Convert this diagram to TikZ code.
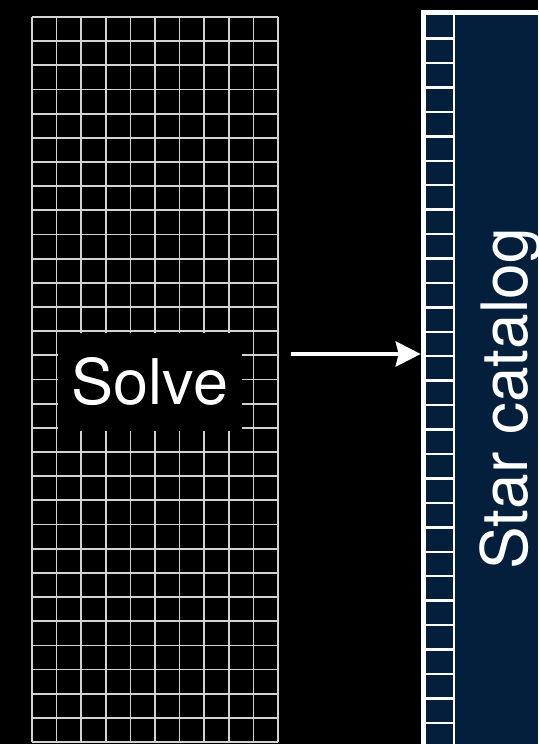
\documentclass[tikz,border=0pt]{standalone}
\usepackage{fontspec}
\setmainfont{TeX Gyre Heros}
\usetikzlibrary{arrows.meta}
\definecolor{navy}{RGB}{3,31,59}
\definecolor{gridc}{RGB}{210,210,210}
\tikzset{
  gridline/.style={draw=gridc, line width=1.7pt},
  bigtext/.style={text=white, font=\fontsize{63}{70}\selectfont, inner sep=0pt},
  cell/.style={fill=navy},
  arrowline/.style={draw=white, line width=4pt, -{Stealth[length=25pt,width=25pt,inset=3pt]}}
}
\begin{document}
\begin{tikzpicture}[x=1pt,y=-1pt]
\useasboundingbox (0,0) rectangle (538,744);
\fill[black] (0,0) rectangle (538,744);
% grid
\foreach \k in {0,...,10} {
  \draw[gridline] ({32+\k*24.6},17) -- ({32+\k*24.6},742);
}
\foreach \k in {0,...,30} {
  \draw[gridline] (32,{17+\k*24.167}) -- (278,{17+\k*24.167});
}
% solve label
\node[bigtext, fill=black, minimum width=184pt, minimum height=98pt] (solve) at (150,381.5) {Solve};
% catalog
\node[fill=white, inner sep=0pt, anchor=north west, minimum width=117.3pt, minimum height=734pt] (catalog) at (420.7,10) {};
\foreach \k in {0,...,29} {
  \fill[cell] (426,{15.3+\k*24.44}) rectangle ({min(452.7,538)},{min(15.3+\k*24.44+22,744)});
}
\fill[navy] (455,15.3) rectangle (538,744);
\node[bigtext, rotate=90, anchor=base, font=\fontsize{64}{70}\selectfont] (label) at (527,399) {Star catalog};
% arrow
\coordinate (a0) at (291,354);
\draw[arrowline] (a0) -- (catalog.west |- a0);
\end{tikzpicture}
\end{document}
